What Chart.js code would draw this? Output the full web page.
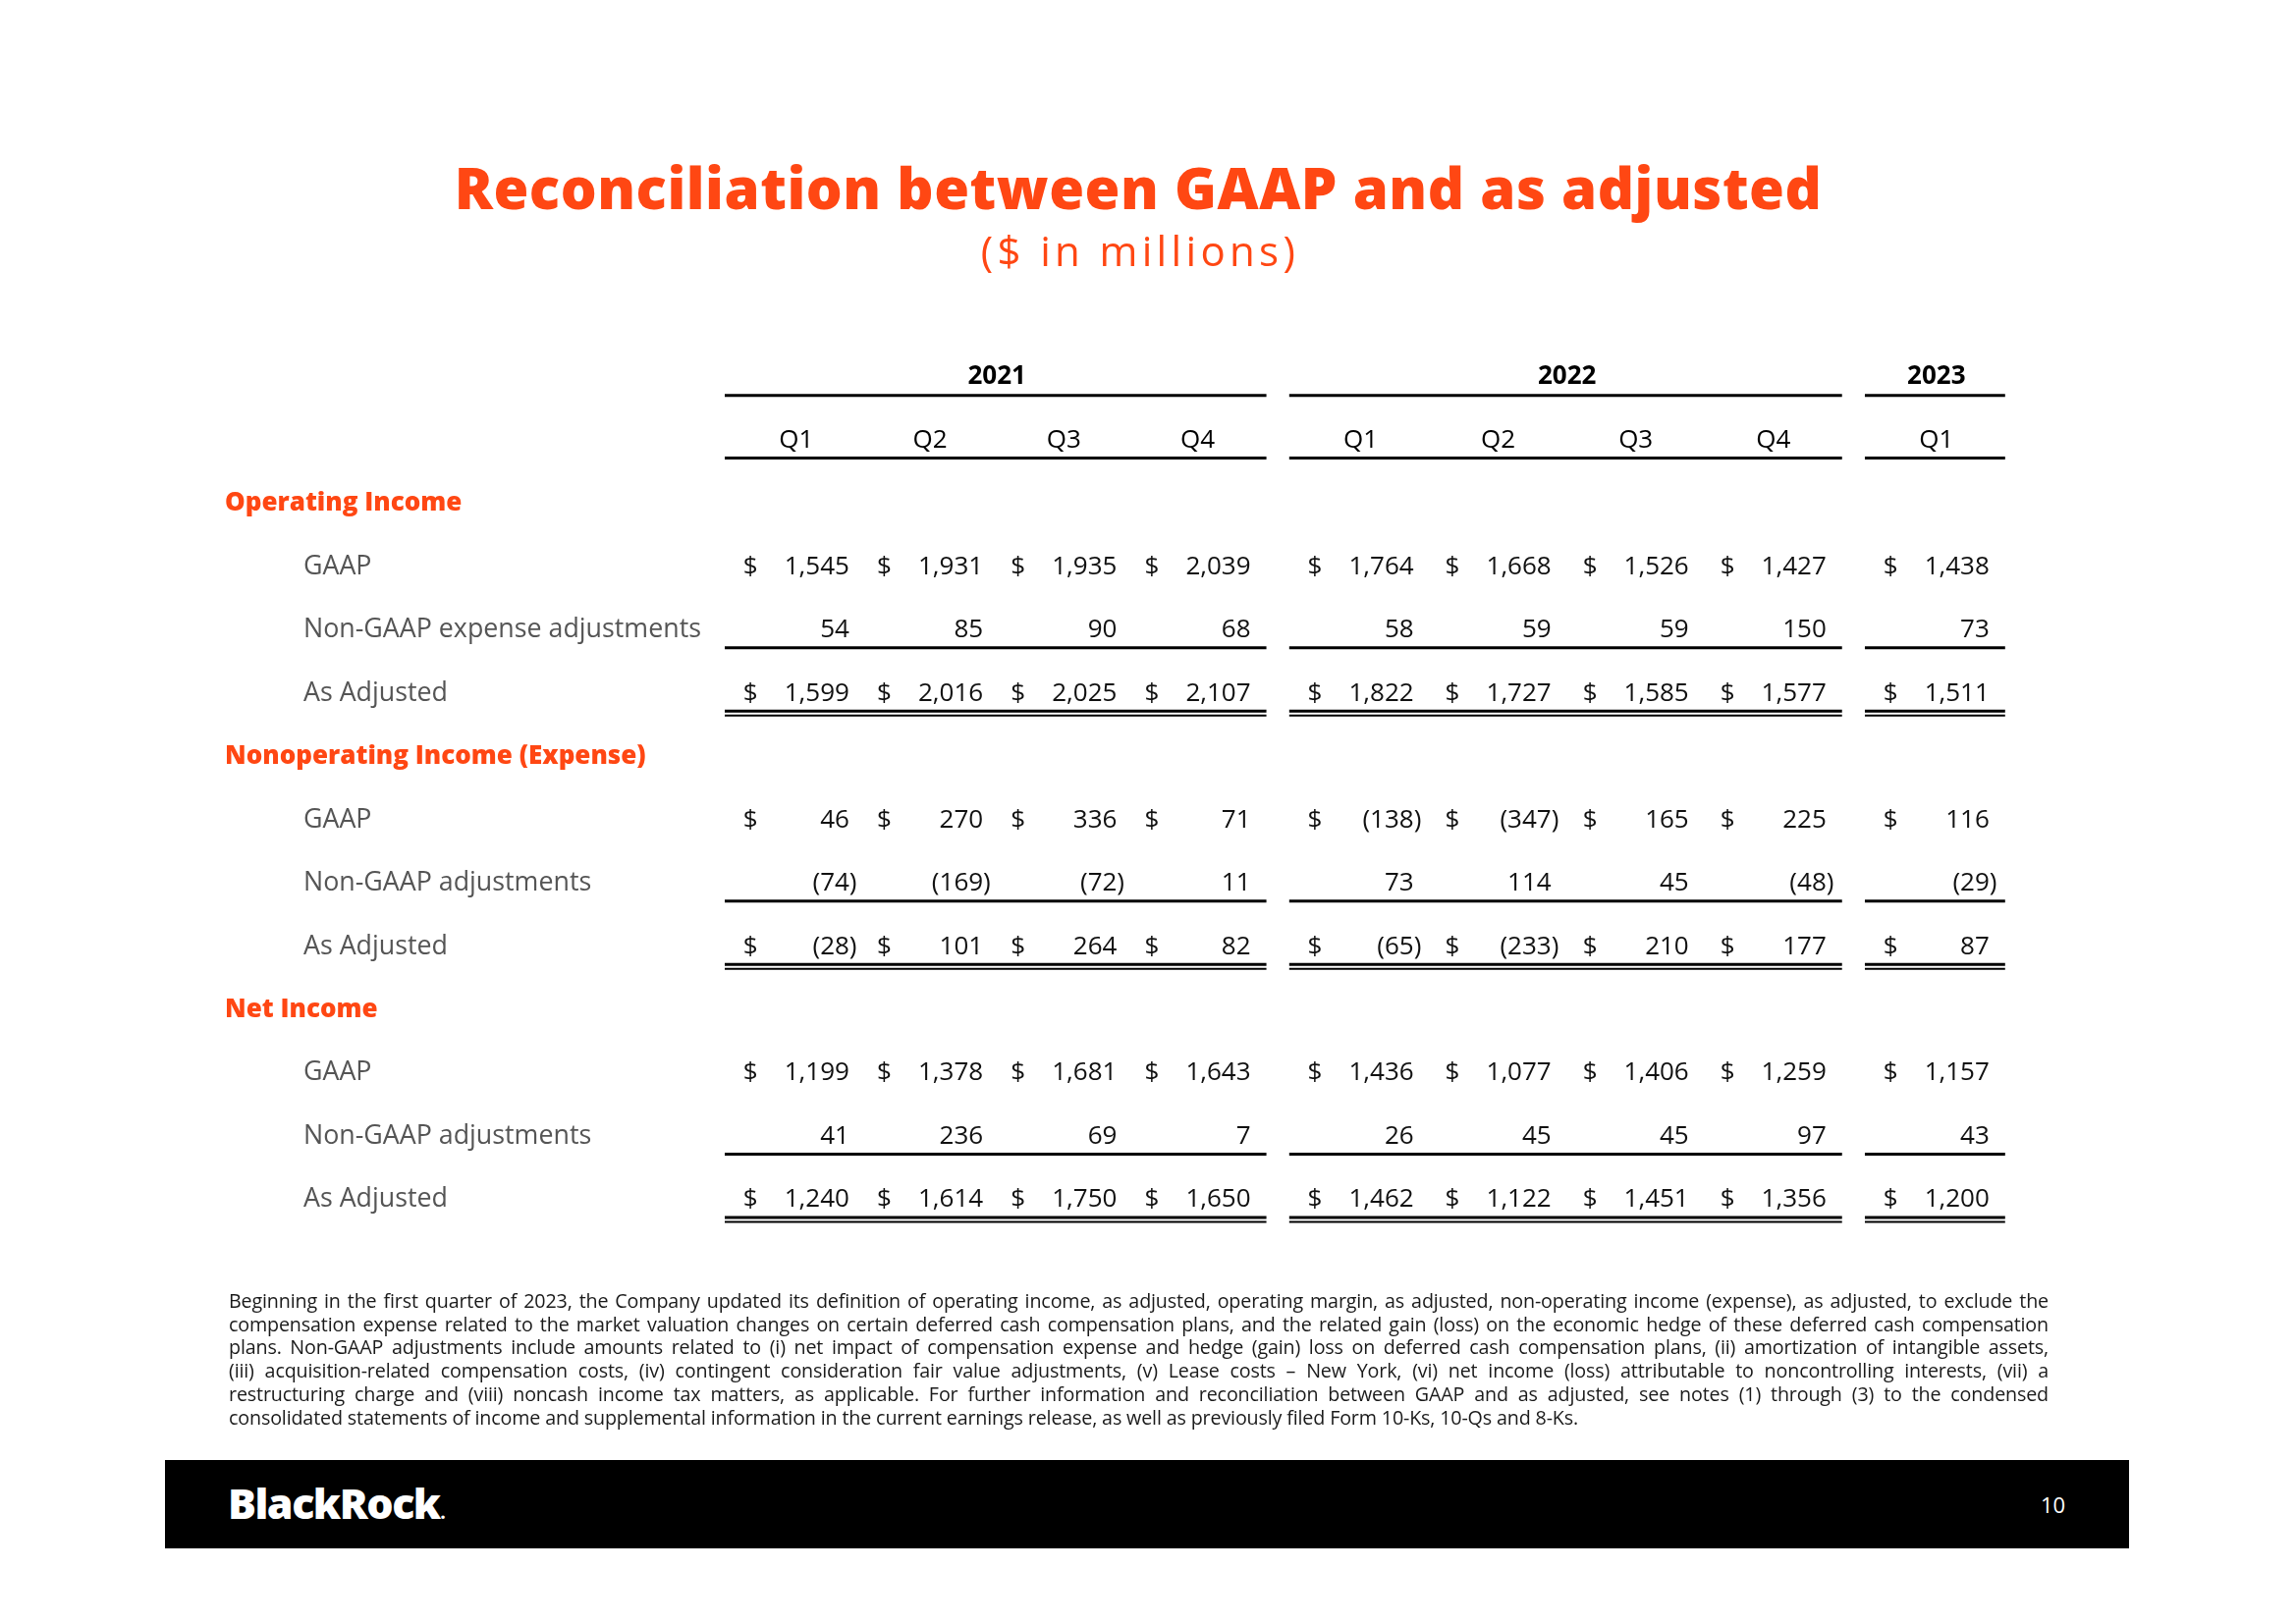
<!DOCTYPE html>
<html>
<head>
<meta charset="utf-8">
<script src="https://cdn.jsdelivr.net/npm/chart.js@4.4.1/dist/chart.umd.min.js"></script>
<style>
  body { margin: 0; background: #fff; }
  #page { position: relative; width: 2338px; height: 1653px; overflow: hidden; }
  #c { position: absolute; left: 0; top: 0; }
  #note {
    position: absolute; left: 233px; top: 1313px; width: 1853px;
    font: 19.7px "Open Sans", sans-serif; line-height: 23.7px; color: #1a1a1a;
    letter-spacing: -0.15px;
  }
  #note div { text-align: justify; text-align-last: justify; white-space: nowrap; }
  #note div.last { text-align-last: left; }
  #footer {
    position: absolute; left: 168px; top: 1487px; width: 2000px; height: 90px; background: #000;
  }
  #logo {
    position: absolute; left: 64px; top: 14px; color: #fff;
    font: 800 43px "Open Sans", sans-serif; letter-spacing: -1.5px;
  }
  #logo span { font-size: 24px; font-weight: 600; }
  #pageno {
    position: absolute; left: 1910px; top: 30px; color: #fff;
    font: 22px "Open Sans", sans-serif;
  }
</style>
</head>
<body>
<div id="page">
  <canvas id="c" width="2338" height="1653"></canvas>
  <div id="note">
    <div>Beginning in the first quarter of 2023, the Company updated its definition of operating income, as adjusted, operating margin, as adjusted, non-operating income (expense), as adjusted, to exclude the</div>
    <div>compensation expense related to the market valuation changes on certain deferred cash compensation plans, and the related gain (loss) on the economic hedge of these deferred cash compensation</div>
    <div>plans. Non-GAAP adjustments include amounts related to (i) net impact of compensation expense and hedge (gain) loss on deferred cash compensation plans, (ii) amortization of intangible assets,</div>
    <div>(iii) acquisition-related compensation costs, (iv) contingent consideration fair value adjustments, (v) Lease costs – New York, (vi) net income (loss) attributable to noncontrolling interests, (vii) a</div>
    <div>restructuring charge and (viii) noncash income tax matters, as applicable. For further information and reconciliation between GAAP and as adjusted, see notes (1) through (3) to the condensed</div>
    <div class="last">consolidated statements of income and supplemental information in the current earnings release, as well as previously filed Form 10-Ks, 10-Qs and 8-Ks.</div>
  </div>
  <div id="footer">
    <div id="logo">BlackRock<span>.</span></div>
    <div id="pageno">10</div>
  </div>
</div>
<script>
// column headers
const years = ['2021', '2022', '2023'];
const yearSpans = [4, 4, 1];
const quarters = ['Q1', 'Q2', 'Q3', 'Q4', 'Q1', 'Q2', 'Q3', 'Q4', 'Q1'];

// row labels
const sections = ['Operating Income', 'Nonoperating Income (Expense)', 'Net Income'];
const items = [
    ['GAAP', 'Non-GAAP expense adjustments', 'As Adjusted'],
    ['GAAP', 'Non-GAAP adjustments', 'As Adjusted'],
    ['GAAP', 'Non-GAAP adjustments', 'As Adjusted']
];

// values, $ in millions
const opGaap     = [1545, 1931, 1935, 2039, 1764, 1668, 1526, 1427, 1438];
const opAdj      = [54, 85, 90, 68, 58, 59, 59, 150, 73];
const opAsAdj    = [1599, 2016, 2025, 2107, 1822, 1727, 1585, 1577, 1511];
const nonopGaap  = [46, 270, 336, 71, -138, -347, 165, 225, 116];
const nonopAdj   = [-74, -169, -72, 11, 73, 114, 45, -48, -29];
const nonopAsAdj = [-28, 101, 264, 82, -65, -233, 210, 177, 87];
const netGaap    = [1199, 1378, 1681, 1643, 1436, 1077, 1406, 1259, 1157];
const netAdj     = [41, 236, 69, 7, 26, 45, 45, 97, 43];
const netAsAdj   = [1240, 1614, 1750, 1650, 1462, 1122, 1451, 1356, 1200];

const sectionValues = [
    [opGaap, opAdj, opAsAdj],
    [nonopGaap, nonopAdj, nonopAsAdj],
    [netGaap, netAdj, netAsAdj]
];

const ORANGE = '#ff4713';
const GAP = 0.186;                 // extra room between year groups (column units)
const groupPitch = [0.973, 1, 1];  // 2021 block is set a little tighter

// x position of each quarter column
const colPos = [];
const groupCols = [];
let k = 0, pos = 0;
yearSpans.forEach((n, g) => {
    const cols = [];
    for (let i = 0; i < n; i++) {
        colPos.push(pos);
        cols.push(k++);
        pos += (i < n - 1) ? groupPitch[g] : 1 + GAP;
    }
    groupCols.push(cols);
});

const datasets = [];

// one invisible scatter dataset per table row; text is drawn at its points
sections.forEach((s, si) => {
    const base = 2 + si * 4;
    sectionValues[si].forEach((vals, j) => {
        datasets.push({
            type: 'scatter',
            data: vals.map((v, c) => ({ x: colPos[c], y: base + 1 + j })),
            cellValues: vals,
            showDollar: j !== 1,
            pointRadius: 0
        });
    });
});

// rules under headers and totals
function rule(y, g, width) {
    const cols = groupCols[g];
    return {
        type: 'line',
        data: [{ x: colPos[cols[0]] - 0.52, y: y }, { x: colPos[cols[cols.length - 1]] + 0.5, y: y }],
        borderColor: '#000',
        borderWidth: width,
        pointRadius: 0,
        clip: false
    };
}
years.forEach((yr, g) => {
    datasets.push(rule(0.32, g, 3));
    datasets.push(rule(1.31, g, 3));
    sections.forEach((s, si) => {
        const base = 2 + si * 4;
        datasets.push(rule(base + 2.31, g, 3));
        datasets.push(rule(base + 3.31, g, 3));
        datasets.push(rule(base + 3.38, g, 2));
    });
});

function fmt(v) {
    return Math.abs(v).toLocaleString('en-US');
}

// draw text stretched/squeezed to a target width
function fitText(ctx, txt, cx, by, target) {
    ctx.letterSpacing = '0px';
    const w = ctx.measureText(txt).width;
    if (w > target) {
        ctx.fillText(txt, cx, by, target);
    } else {
        ctx.letterSpacing = ((target - w) / (txt.length - 1)).toFixed(2) + 'px';
        ctx.fillText(txt, cx, by);
    }
    ctx.letterSpacing = '0px';
}

const tableText = {
    id: 'tableText',
    afterDatasetsDraw(chart) {
        const { ctx, scales: { x, y } } = chart;
        const unit = x.getPixelForValue(1) - x.getPixelForValue(0);
        const fs = 26;
        const mid = fs * 0.36; // baseline shift so digits sit centred on the row
        ctx.save();

        // year headers
        ctx.fillStyle = '#000';
        ctx.textAlign = 'center';
        ctx.font = 'bold ' + fs + 'px "Open Sans"';
        years.forEach((yr, g) => {
            const cols = groupCols[g];
            const cx = (colPos[cols[0]] + colPos[cols[cols.length - 1]]) / 2;
            ctx.fillText(yr, x.getPixelForValue(cx), y.getPixelForValue(0) + mid);
        });
        // quarter headers
        ctx.font = fs + 'px "Open Sans"';
        quarters.forEach((q, c) => {
            ctx.fillText(q, x.getPixelForValue(colPos[c]), y.getPixelForValue(1) + mid);
        });

        // row labels
        ctx.textAlign = 'left';
        sections.forEach((s, si) => {
            const base = 2 + si * 4;
            ctx.font = '800 26px "Open Sans"';
            ctx.fillStyle = ORANGE;
            ctx.fillText(s, 229, y.getPixelForValue(base) + mid);
            ctx.font = '26.8px "Open Sans"';
            ctx.fillStyle = '#555';
            items[si].forEach((lab, j) => {
                ctx.fillText(lab, 309, y.getPixelForValue(base + 1 + j) + mid);
            });
        });

        // cells
        ctx.font = fs + 'px "Open Sans"';
        ctx.fillStyle = '#111';
        chart.data.datasets.forEach((ds, i) => {
            if (!ds.cellValues) return;
            chart.getDatasetMeta(i).data.forEach((pt, c) => {
                const v = ds.cellValues[c];
                const right = pt.x + 0.386 * unit;
                const by = pt.y + mid;
                if (ds.showDollar) {
                    ctx.textAlign = 'left';
                    ctx.fillText('$', pt.x - 0.386 * unit, by);
                }
                if (v < 0) {
                    ctx.textAlign = 'right';
                    ctx.fillText('(' + fmt(v), right, by);
                    ctx.textAlign = 'left';
                    ctx.fillText(')', right, by);
                } else {
                    ctx.textAlign = 'right';
                    ctx.fillText(fmt(v), right, by);
                }
            });
        });
        ctx.restore();
    },
    afterDraw(chart) {
        const ctx = chart.ctx;
        ctx.save();
        ctx.fillStyle = ORANGE;
        ctx.textAlign = 'center';
        ctx.font = '800 58px "Open Sans"';
        fitText(ctx, 'Reconciliation between GAAP and as adjusted', 1159, 213, 1392);
        ctx.font = '42px "Open Sans"';
        fitText(ctx, '($ in millions)', 1161, 271, 320);
        ctx.restore();
    }
};

new Chart(document.getElementById('c'), {
    type: 'scatter',
    data: { datasets: datasets },
    options: {
        responsive: false,
        animation: false,
        devicePixelRatio: 1,
        layout: { padding: { left: 738, right: 292, top: 382, bottom: 433 } },
        scales: {
            x: { type: 'linear', display: false, min: -0.52, max: colPos[colPos.length - 1] + 0.53 },
            y: { type: 'linear', display: false, reverse: true, min: 0, max: 13 }
        },
        plugins: { legend: { display: false }, tooltip: { enabled: false } },
        events: []
    },
    plugins: [tableText]
});
</script>
</body>
</html>
